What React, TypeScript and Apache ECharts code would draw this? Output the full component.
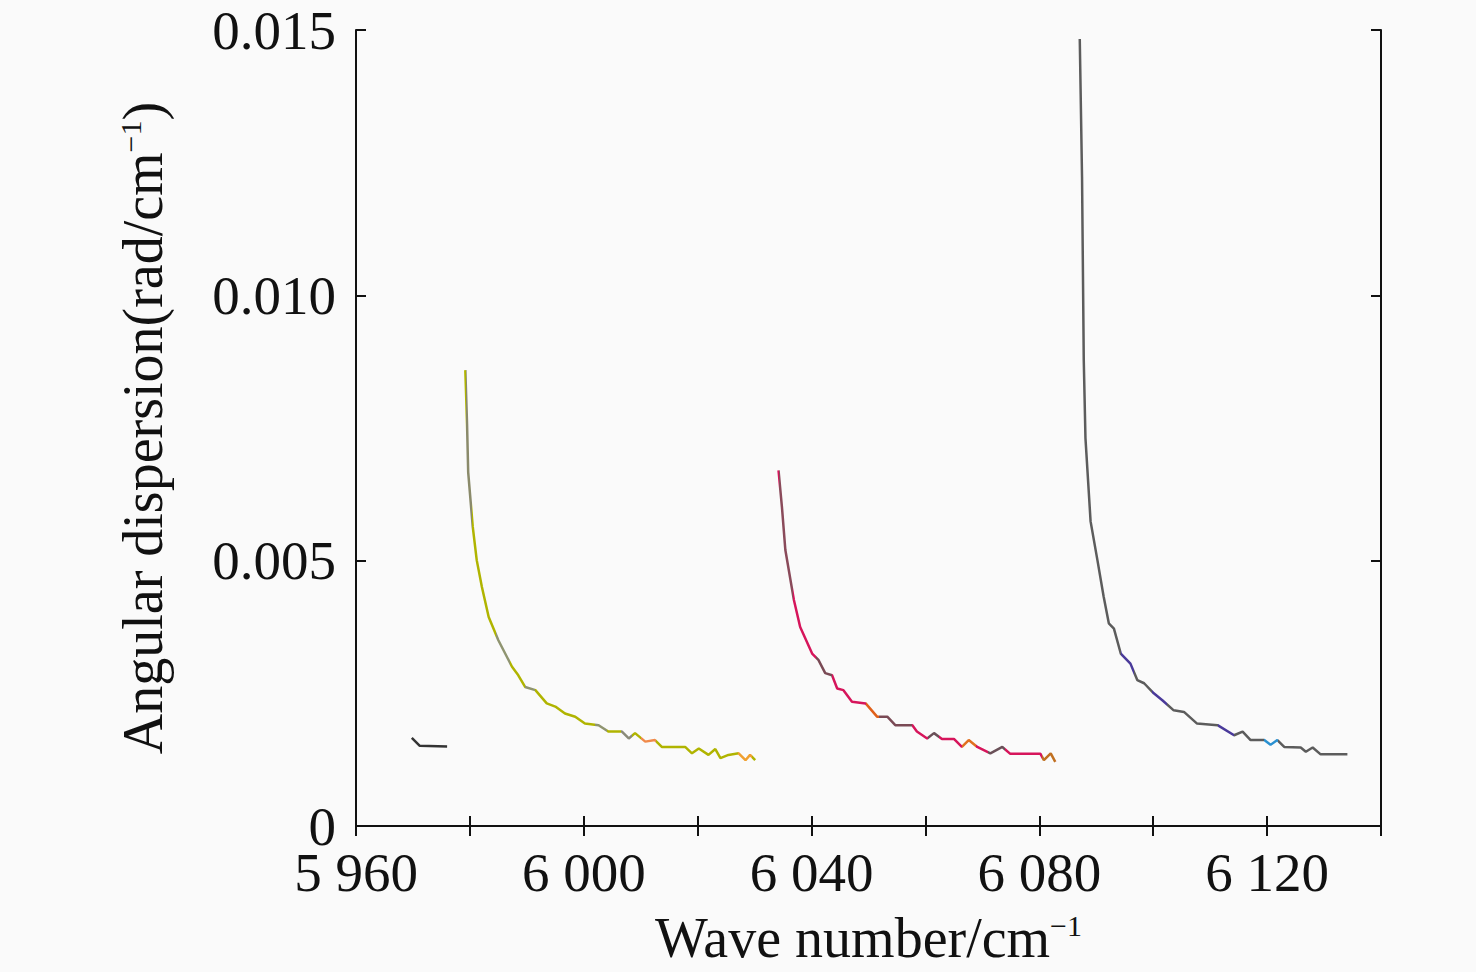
import { useRef, useEffect } from 'react'
import * as echarts from 'echarts'

// small dark stub near 5970
const blackX = [5969.8, 5971.2, 5976.0]
const blackY = [0.00166, 0.00151, 0.0015]

const yellowX = [
  5979.2, 5979.5, 5979.7, 5980.5, 5981.2, 5982.1, 5983.3, 5985.0, 5987.4, 5988.5, 5989.7, 5991.5,
  5993.5, 5995.0, 5996.7, 5998.5, 6000.2, 6002.6, 6004.3, 6006.7, 6007.9, 6009.0, 6010.8, 6012.5,
  6013.7, 6017.8, 6019.0, 6020.2, 6021.9, 6023.1, 6024.0, 6025.4, 6027.2, 6028.4, 6029.2, 6030.1,
]
const yellowY = [
  0.00859, 0.00758, 0.00667, 0.00564, 0.00501, 0.00451, 0.00394, 0.0035, 0.003, 0.00284, 0.00262, 0.00256,
  0.00231, 0.00225, 0.00212, 0.00206, 0.00193, 0.0019, 0.00178, 0.00178, 0.00165, 0.00175, 0.00159, 0.00162,
  0.00149, 0.00149, 0.00137, 0.00146, 0.00134, 0.00145, 0.00128, 0.00134, 0.00137, 0.00124, 0.00134, 0.00124,
]

const redX = [
  6034.2, 6034.8, 6035.4, 6036.9, 6038.0, 6040.1, 6041.2, 6042.4, 6043.6, 6044.5, 6045.6, 6047.1,
  6049.5, 6051.5, 6053.3, 6054.7, 6057.7, 6058.5, 6060.3, 6061.5, 6062.9, 6065.0, 6066.4, 6067.6,
  6069.1, 6071.4, 6073.5, 6074.9, 6080.2, 6080.8, 6082.0, 6082.8,
]
const redY = [
  0.0067, 0.00601, 0.0052, 0.00426, 0.00375, 0.00325, 0.00313, 0.00288, 0.00284, 0.00259, 0.00256, 0.00234,
  0.00231, 0.00206, 0.00206, 0.0019, 0.0019, 0.00178, 0.00165, 0.00175, 0.00164, 0.00164, 0.00149, 0.00162,
  0.00149, 0.00137, 0.00149, 0.00136, 0.00136, 0.00124, 0.00137, 0.00121,
]

const grayX = [
  6087.1, 6087.5, 6087.8, 6088.1, 6089.0, 6090.2, 6091.3, 6092.2, 6093.1, 6094.3, 6096.0, 6097.2,
  6098.4, 6100.1, 6101.6, 6103.6, 6105.4, 6107.7, 6111.3, 6114.2, 6115.7, 6117.1, 6119.5, 6120.6,
  6121.8, 6123.0, 6125.9, 6126.8, 6128.0, 6129.4, 6134.1,
]
const grayY = [
  0.01483, 0.01223, 0.00879, 0.00731, 0.00574, 0.00501, 0.00432, 0.00382, 0.00372, 0.00325, 0.00306, 0.00275,
  0.00269, 0.0025, 0.00237, 0.00218, 0.00215, 0.00193, 0.0019, 0.00171, 0.00178, 0.00162, 0.00162, 0.00153,
  0.00162, 0.00149, 0.00148, 0.0014, 0.00148, 0.00135, 0.00135,
]

// x ranges where a curve changes colour
const yellowPatches: [number, number, string][] = [
  [5979.4, 5980.3, '#8a8a6a'],
  [5984.6, 5987.0, '#8f9470'],
  [5989.6, 5991.5, '#8f9470'],
  [6002.0, 6004.0, '#8f9470'],
  [6006.5, 6008.5, '#8a8a7a'],
  [6010.0, 6012.6, '#f08a4b'],
  [6027.0, 6029.6, '#f0a030'],
]
const redPatches: [number, number, string][] = [
  [6034.2, 6036.8, '#8a4a5a'],
  [6040.7, 6043.6, '#7a4a55'],
  [6049.5, 6051.8, '#e0601a'],
  [6051.8, 6057.7, '#7a4a55'],
  [6060.4, 6062.4, '#6a5058'],
  [6066.4, 6068.8, '#e07020'],
  [6071.0, 6074.0, '#6a5058'],
  [6080.4, 6083.0, '#c07020'],
]
const grayPatches: [number, number, string][] = [
  [6094.3, 6096.6, '#4a3a9a'],
  [6099.8, 6102.5, '#4a3a9a'],
  [6111.3, 6114.2, '#4a3a9a'],
  [6119.5, 6122.0, '#2a90d0'],
]

const FONT = '"Liberation Serif", "Times New Roman", serif'

const fmtWave = (v: number) =>
  v % 40 === 0 ? `${Math.floor(v / 1000)} ${String(v % 1000).padStart(3, '0')}` : ''

export default function App() {
  const ref = useRef<HTMLDivElement>(null)

  useEffect(() => {
    const el = ref.current
    if (!el) return
    const chart = echarts.init(el, null, { renderer: 'svg' })

    const curves = [
      { x: blackX, y: blackY, color: '#333333', patches: [] as [number, number, string][] },
      { x: yellowX, y: yellowY, color: '#b0b400', patches: yellowPatches },
      { x: redX, y: redY, color: '#d6155b', patches: redPatches },
      { x: grayX, y: grayY, color: '#5c5c5c', patches: grayPatches },
    ]

    const axisLine = { show: true, lineStyle: { color: '#111', width: 2 } }
    const axisTick = { show: true, inside: true, length: 10, lineStyle: { color: '#111', width: 2 } }
    const label = { fontFamily: FONT, fontSize: 55, color: '#111', lineHeight: 44 }
    const nameRich = {
      a: { fontFamily: FONT, fontSize: 56, color: '#111' },
      s: { fontFamily: FONT, fontSize: 30, color: '#111', verticalAlign: 'top' },
    }

    chart.setOption({
      animation: false,
      backgroundColor: '#fafafa',
      grid: { left: 356, right: 95, top: 30, bottom: 146 },
      xAxis: [
        {
          type: 'value',
          min: 5960,
          max: 6140,
          interval: 20,
          position: 'bottom',
          axisLine,
          axisTick,
          splitLine: { show: false },
          axisLabel: { ...label, margin: 24, formatter: fmtWave, showMaxLabel: true },
          name: '{a|Wave number/cm}{s|−1}',
          nameLocation: 'middle',
          nameGap: 84,
          nameTextStyle: { rich: nameRich },
        },
        {
          type: 'value',
          min: 5960,
          max: 6140,
          interval: 20,
          position: 'top',
          axisLine,
          axisTick,
          splitLine: { show: false },
          axisLabel: { show: false },
        },
      ],
      yAxis: [
        {
          type: 'value',
          min: 0,
          max: 0.015,
          interval: 0.005,
          position: 'left',
          axisLine,
          axisTick,
          splitLine: { show: false },
          axisLabel: {
            ...label,
            margin: 20,
            formatter: (v: number) => (v === 0 ? '0' : v.toFixed(3)),
          },
          name: '{a|Angular dispersion(rad/cm}{s|−1}{a|)}',
          nameLocation: 'middle',
          nameRotate: 90,
          nameGap: 185,
          nameTextStyle: { rich: nameRich },
        },
        {
          type: 'value',
          min: 0,
          max: 0.015,
          interval: 0.005,
          position: 'right',
          axisLine,
          axisTick,
          splitLine: { show: false },
          axisLabel: { show: false },
        },
      ],
      visualMap: curves.map((c, i) => ({
        type: 'piecewise',
        show: false,
        seriesIndex: i,
        dimension: 0,
        pieces: c.patches.length
          ? c.patches.map(([a, b, color]) => ({ gte: a, lt: b, color }))
          : [{ gte: 0, lt: 100000, color: c.color }],
        outOfRange: { color: c.color },
      })),
      series: curves.map((c) => ({
        type: 'line',
        xAxisIndex: 0,
        yAxisIndex: 0,
        symbol: 'none',
        lineStyle: { width: 2.5 },
        data: c.x.map((x, i) => [x, c.y[i]]),
      })),
    })

    return () => chart.dispose()
  }, [])

  return (
    <div
      ref={ref}
      style={{ position: 'fixed', left: 0, top: 0, width: 1476, height: 972 }}
    />
  )
}
